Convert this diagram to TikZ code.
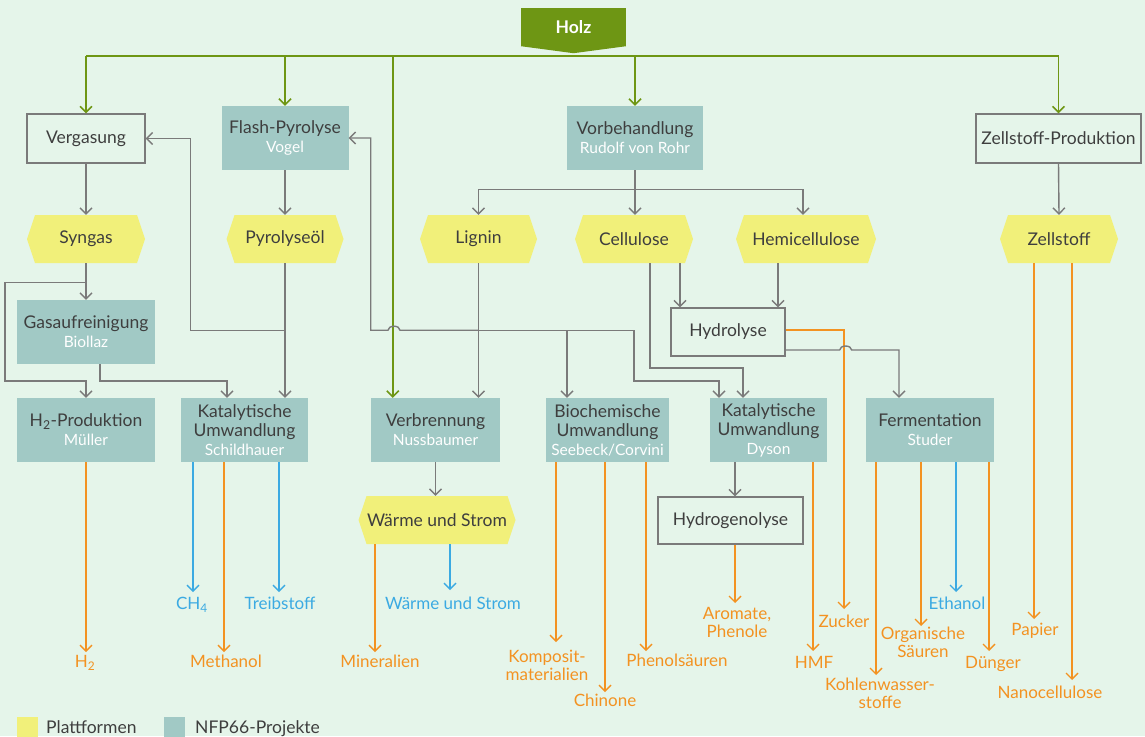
\documentclass[tikz,border=0pt]{standalone}
\usepackage{fontspec}
\setmainfont{Lato}
\usetikzlibrary{arrows.meta,calc}
\definecolor{bgc}{RGB}{229,245,234}
\definecolor{tealc}{RGB}{161,201,197}
\definecolor{yelc}{RGB}{241,240,122}
\definecolor{grnc}{RGB}{110,150,20}
\definecolor{linec}{RGB}{122,122,122}
\definecolor{oranc}{RGB}{243,146,33}
\definecolor{bluec}{RGB}{59,170,226}
\definecolor{darkc}{RGB}{62,62,62}
\newcommand\fmain{\fontsize{17.5}{19}\selectfont}
\newcommand\fsub{\fontsize{15.5}{19}\selectfont}
\newcommand\fout{\fontsize{17}{18}\selectfont}
\newcommand\subl[1]{\\{\fsub\textcolor{white}{#1}}}
\newcommand\hexa[5]{%
  \fill[yelc] ({#2-#4/2},#3) -- ({#2-#4/2+8},{#3-24}) -- ({#2+#4/2-8},{#3-24}) -- ({#2+#4/2},#3) -- ({#2+#4/2-8},{#3+24}) -- ({#2-#4/2+8},{#3+24}) -- cycle;
  \node[plat, minimum width=#4pt] (#1) at (#2,#3) {#5};}
\newcommand\outarr[4]{\draw[#1] let \p1=($(#2.south)+(#3,0)$), \p2=(#4.north) in (\p1) -- (\x1,\y2);}
\begin{document}
\begin{tikzpicture}[x=1pt,y=-1pt,
  proj/.style={fill=tealc, minimum height=64pt, inner sep=0pt, align=center, font=\fmain, text=darkc},
  outl/.style={draw=linec, line width=1.3pt, fill=bgc, minimum height=49pt, inner sep=0pt, font=\fmain, text=darkc},
  plat/.style={minimum height=48pt, inner sep=0pt, font=\fmain, text=darkc},
  gl/.style={draw=linec, line width=1.4pt},
  garr/.style={gl, -{Straight Barb[length=6pt,width=12pt]}},
  grl/.style={draw=grnc, line width=1.5pt},
  grarr/.style={grl, -{Straight Barb[length=6pt,width=12pt]}},
  oarr/.style={draw=oranc, line width=1.4pt, -{Straight Barb[length=6pt,width=12pt]}, shorten >=4pt},
  barr/.style={draw=bluec, line width=1.4pt, -{Straight Barb[length=6pt,width=12pt]}, shorten >=4pt},
  olab/.style={font=\fout, text=oranc, align=center, inner sep=0pt, anchor=north},
  blab/.style={font=\fout, text=bluec, align=center, inner sep=0pt, anchor=north}]
\fill[bgc] (0,0) rectangle (1145,736);
\useasboundingbox (0,0) rectangle (1145,736);

% Holz
\node[fill=grnc, minimum width=105pt, minimum height=38pt, inner sep=0pt, text=white, font=\fmain\bfseries] (holz) at (573.5,27) {Holz};
\fill[grnc] (holz.south west) -- (holz.south east) -- ($(holz.south)+(0,7)$) -- cycle;

% first row
\node[outl, minimum width=118pt] (verg) at (86,138.5) {Vergasung};
\node[proj, minimum width=127pt] (flash) at (285,138) {Flash-Pyrolyse\subl{Vogel}};
\node[proj, minimum width=136pt] (vorb) at (635,138) {Vorbehandlung\subl{Rudolf von Rohr}};
\node[outl, minimum width=165pt] (zprod) at (1058.5,138.5) {Zellstoff-Produktion};

% platforms
\hexa{syngas}{86}{239}{118}{Syngas}
\hexa{pyro}{285}{239}{117}{Pyrolyseöl}
\hexa{lignin}{478.5}{239}{117}{Lignin}
\hexa{cell}{634}{239}{118}{Cellulose}
\hexa{hemi}{806}{239}{140}{Hemicellulose}
\hexa{zell}{1059}{239}{118}{Zellstoff}

% middle
\node[proj, minimum width=138pt] (gasauf) at (86,332) {Gasaufreinigung\subl{Biollaz}};
\node[outl, minimum width=114pt, minimum height=48pt] (hydro) at (728,332) {Hydrolyse};

% project row
\node[proj, minimum width=138pt] (h2) at (86,430) {H\textsubscript{2}-Produktion\subl{Müller}};
\node[proj, minimum width=127pt] (kat1) at (244.5,430) {Katalytische\\Umwandlung\subl{Schildhauer}};
\node[proj, minimum width=129pt] (verb) at (435.5,430) {Verbrennung\subl{Nussbaumer}};
\node[proj, minimum width=123pt] (bio) at (607.5,430) {Biochemische\\Umwandlung\subl{Seebeck/Corvini}};
\node[proj, minimum width=117pt] (dyson) at (768.5,430) {Katalytische\\Umwandlung\subl{Dyson}};
\node[proj, minimum width=128pt] (ferm) at (930,430) {Fermentation\subl{Studer}};

\hexa{wus}{437}{520}{157}{Wärme und Strom}
\node[outl, minimum width=145pt, minimum height=47pt] (hydrog) at (730.5,520.5) {Hydrogenolyse};

% output labels
\node[olab] (lH2) at (85,655) {H\textsubscript{2}};
\node[blab] (lCH4) at (192,597) {CH\textsubscript{4}};
\node[blab] (lTreib) at (280,597) {Treibstoff};
\node[olab] (lMeth) at (226,655) {Methanol};
\node[olab] (lMin) at (380,655) {Mineralien};
\node[blab] (lWuS) at (453,597) {Wärme und Strom};
\node[olab] (lKomp) at (547,650) {Komposit-\\materialien};
\node[olab] (lChin) at (605,694) {Chinone};
\node[olab] (lPhen) at (677,654) {Phenolsäuren};
\node[olab] (lArom) at (737,607) {Aromate,\\Phenole};
\node[olab] (lHMF) at (814,656) {HMF};
\node[olab] (lZuck) at (844,615) {Zucker};
\node[olab] (lKohl) at (880,678) {Kohlenwasser-\\stoffe};
\node[olab] (lOrg) at (923,627) {Organische\\Säuren};
\node[blab] (lEth) at (957,597) {Ethanol};
\node[olab] (lDung) at (993,656) {Dünger};
\node[olab] (lPap) at (1035,623) {Papier};
\node[olab] (lNano) at (1050,686) {Nanocellulose};

% green connectors
\coordinate (bus) at ($(holz.south)+(0,10)$);
\draw[grl] (verg.north |- bus) -- (zprod.north |- bus);
\draw[grarr] (verg.north |- bus) -- (verg.north);
\draw[grarr] (flash.north |- bus) -- (flash.north);
\path ($(verb.north west)+(22,0)$) coordinate (vtop);
\draw[grarr] (vtop |- bus) -- (vtop);
\draw[grarr] (vorb.north |- bus) -- (vorb.north);
\draw[grarr] (zprod.north |- bus) -- (zprod.north);

% gray connectors
\draw[garr] (verg.south) -- (syngas.north);
\draw[garr] (flash.south) -- (pyro.north);
\draw[gl] (vorb.south) -- ++(0,19) coordinate (vb);
\draw[garr] (vb) -| (lignin.north);
\draw[garr] (vb) -| ($(hemi.north)+(-3,0)$);
\draw[garr] (vb) -- (vb |- cell.north);
\draw[garr] (zprod.south) -- (zell.north);
\draw[garr] (syngas.south) -- (gasauf.north);
\draw[garr] ($(syngas.south)+(0,19)$) -| ($(gasauf.west)+(-12,0)$) |- ($(h2.north)+(0,-17)$) -- (h2.north);
\draw[garr] ($(gasauf.south)+(14,0)$) |- ($(kat1.north)+(-17.5,-17)$) -- ($(kat1.north)+(-17.5,0)$);
\draw[garr] (pyro.south) -- (pyro.south |- kat1.north);
\draw[garr] ($(pyro.south)+(0,67)$) -| ($(verg.east)+(45,0)$) -- (verg.east);
\draw[garr] (lignin.south) -- (lignin.south |- verb.north);
\coordinate (lj) at ($(lignin.south)+(0,67)$);
\draw[garr] (lj) -- ($(lj)+(-78.5,0)$) arc[start angle=0,end angle=-180,x radius=6,y radius=4] -| ($(flash.east)+(22,0)$) -- (flash.east);
\draw[garr] (lj) -| ($(bio.north)+(-40.5,0)$);
\draw[garr] (lj) -- ($(lj)+(155.5,0)$) |- ($(dyson.north)+(-49.5,-17)$) -- ($(dyson.north)+(-49.5,0)$);
\draw[garr] ($(cell.south)+(46,0)$) -- ($(hydro.north)+(-48,0)$);
\draw[garr] ($(hemi.south)+(-28,0)$) -- ($(hydro.north)+(50,0)$);
\draw[garr] ($(cell.south)+(16,0)$) |- ($(dyson.north)+(-25.5,-30)$) -- ($(dyson.north)+(-25.5,0)$);
\draw[oarr, shorten >=6pt] ($(hydro.east)+(0,-2)$) -| (lZuck.north);
\draw[garr] ($(hydro.east)+(0,18)$) -- ++(54,0) arc[start angle=180,end angle=360,x radius=6,y radius=4] -| ($(ferm.north)+(-31,0)$);
\draw[garr] (verb.south) -- (verb.south |- wus.north);
\draw[garr] let \p1=($(dyson.south)+(-33.5,0)$), \p2=(hydrog.north) in (\p1) -- (\x1,\y2);

% outputs
\outarr{oarr,shorten >=3pt}{h2}{0}{lH2}
\outarr{barr,shorten >=5pt}{kat1}{-51.5}{lCH4}
\outarr{oarr,shorten >=3pt}{kat1}{-20.5}{lMeth}
\outarr{barr,shorten >=5pt}{kat1}{34.5}{lTreib}
\outarr{oarr,shorten >=3pt}{wus}{-62}{lMin}
\outarr{barr,shorten >=7pt}{wus}{13}{lWuS}
\outarr{oarr,shorten >=8pt}{bio}{-51.5}{lKomp}
\outarr{oarr,shorten >=2pt}{bio}{-2.5}{lChin}
\outarr{oarr,shorten >=3pt}{bio}{38.5}{lPhen}
\outarr{oarr,shorten >=4pt}{hydrog}{4.5}{lArom}
\outarr{oarr,shorten >=5pt}{dyson}{44.5}{lHMF}
\outarr{oarr,shorten >=3pt}{ferm}{-54}{lKohl}
\outarr{oarr,shorten >=1pt}{ferm}{-9}{lOrg}
\outarr{barr,shorten >=5pt}{ferm}{26}{lEth}
\outarr{oarr,shorten >=5pt}{ferm}{59}{lDung}
\outarr{oarr,shorten >=4pt}{zell}{-25}{lPap}
\outarr{oarr,shorten >=6pt}{zell}{13}{lNano}

% legend
\node[fill=yelc, minimum size=21pt, inner sep=0pt, anchor=north west] (legy) at (17,717) {};
\node[anchor=base west, inner sep=0pt, font=\fmain, text=darkc] (legyt) at (46,733) {Plattformen};
\node[fill=tealc, minimum size=21pt, inner sep=0pt, anchor=north west] (legt) at (164,717) {};
\node[anchor=base west, inner sep=0pt, font=\fmain, text=darkc] (legtt) at (195,733) {NFP66-Projekte};
\end{tikzpicture}
\end{document}
